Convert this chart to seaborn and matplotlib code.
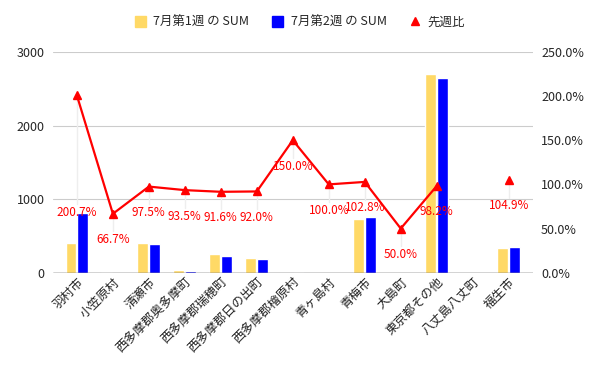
import matplotlib
matplotlib.use("Agg")
import matplotlib.pyplot as plt
from matplotlib.ticker import FuncFormatter
import seaborn as sns
import pandas as pd
import numpy as np

sns.set_style("white")
plt.rcParams['font.family'] = ['Noto Sans CJK JP', 'DejaVu Sans']

cities = ['羽村市', '小笠原村', '清瀬市', '西多摩郡奥多摩町', '西多摩郡瑞穂町', '西多摩郡日の出町',
          '西多摩郡檜原村', '青ヶ島村', '青梅市', '大島町', '東京都その他', '八丈島八丈町', '福生市']
week1 = [405, 3, 400, 31, 250, 200, 2, 1, 730, 2, 2700, 0, 337]
week2 = [813, 2, 390, 29, 229, 184, 3, 1, 750, 1, 2651, 0, 354]
ratio = [200.7, 66.7, 97.5, 93.5, 91.6, 92.0, 150.0, 100.0, 102.8, 50.0, 98.2, np.nan, 104.9]
ratio_labels = ['200.7%', '66.7%', '97.5%', '93.5%', '91.6%', '92.0%', '150.0%', '100.0%',
                '102.8%', '50.0%', '98.2%', '', '104.9%']

s1 = '7月第1週 の SUM'
s2 = '7月第2週 の SUM'
df = pd.DataFrame({'city': cities * 2,
                   'value': week1 + week2,
                   'series': [s1] * len(cities) + [s2] * len(cities)})

fig = plt.figure(figsize=(6, 3.71), dpi=100)
ax = fig.add_axes([0.088, 0.265, 0.8, 0.595])
sns.barplot(data=df, x='city', y='value', hue='series', palette=['#FFD966', '#0000FF'],
            saturation=1, ax=ax, width=0.66, gap=0.08, legend=False)
ax.set_ylim(0, 3000)
ax.set_yticks([0, 1000, 2000, 3000])
ax.set_xlim(-0.67, len(cities) - 0.33)
ax.grid(axis='y', color='#cccccc', linewidth=0.8)
ax.set_axisbelow(True)
ax.set_xlabel('')
ax.set_ylabel('')
for sp in ax.spines.values():
    sp.set_visible(False)
ax.axhline(0, color='#333333', linewidth=1, zorder=5)
ax.tick_params(axis='y', length=0, labelsize=9, pad=6)
ax.tick_params(axis='x', length=0, labelsize=9, pad=2)
plt.setp(ax.get_xticklabels(), rotation=45, ha='right', rotation_mode='anchor', color='#222222')

ax2 = ax.twinx()
x = np.arange(len(cities))
ax2.plot(x, ratio, color='#FF0000', linewidth=1.6, marker='^', markersize=6, zorder=4)
ax2.set_ylim(0, 250)
ax2.set_yticks([0, 50, 100, 150, 200, 250])
ax2.yaxis.set_major_formatter(FuncFormatter(lambda v, p: f'{v:.1f}%'))
ax2.tick_params(axis='y', length=0, labelsize=9, pad=6)
for sp in ax2.spines.values():
    sp.set_visible(False)
for xi, r, lab in zip(x, ratio, ratio_labels):
    if lab:
        # the top label sits lower, like the original
        ly = 76 if r > 200 else r - 22
        ax2.plot([xi, xi], [r - 4, ly + 2], color='#eeeeee', linewidth=1, zorder=1)
        ax2.text(xi, ly, lab, color='#FF0000', fontsize=8.5, ha='center', va='top', zorder=6)

handles = [plt.Rectangle((0, 0), 1, 1, color='#FFD966'),
           plt.Rectangle((0, 0), 1, 1, color='#0000FF'),
           plt.Line2D([], [], color='#FF0000', marker='^', linestyle='', markersize=6)]
fig.legend(handles, [s1, s2, '先週比'], loc='center', bbox_to_anchor=(0.5, 0.94), ncol=3,
           frameon=False, fontsize=9, handlelength=0.9, handleheight=0.9, columnspacing=1.8,
           handletextpad=0.6)

fig.savefig('out.png', dpi=100)
